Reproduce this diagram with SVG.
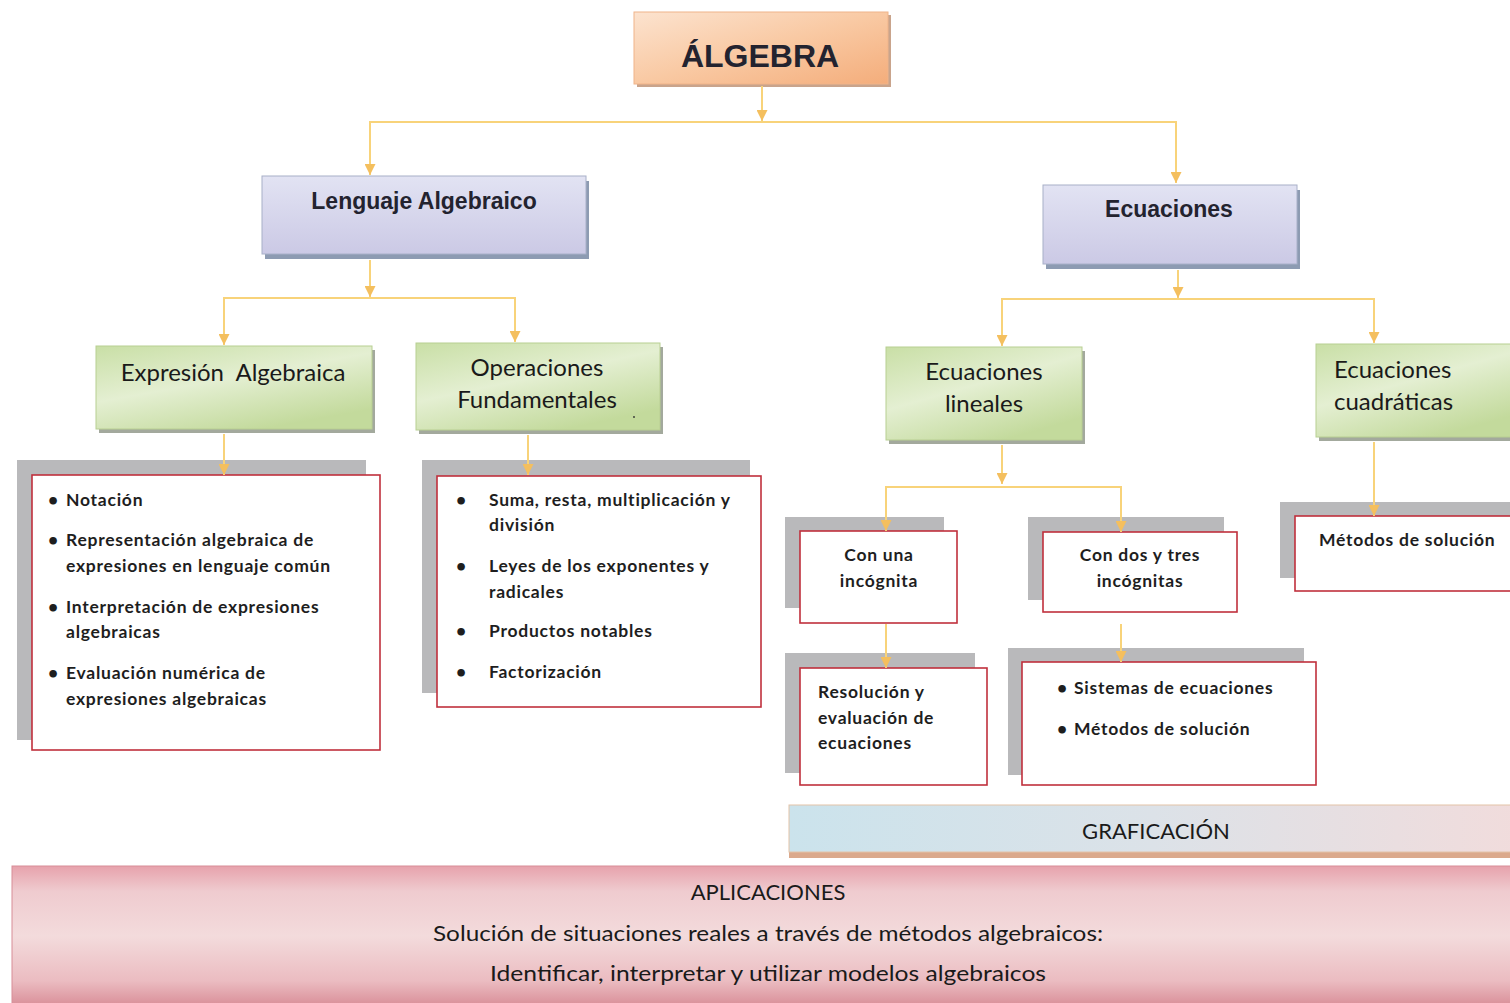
<svg xmlns="http://www.w3.org/2000/svg" width="1510" height="1003" viewBox="0 0 1510 1003">
<defs>
<linearGradient id="gOrange" x1="0" y1="0" x2="1" y2="1"><stop offset="0" stop-color="#fce3cf"/><stop offset="0.5" stop-color="#f9c9a3"/><stop offset="1" stop-color="#f4ad7b"/></linearGradient>
<linearGradient id="gLav" x1="0" y1="0" x2="0" y2="1"><stop offset="0" stop-color="#e2e3f3"/><stop offset="1" stop-color="#cbc9e5"/></linearGradient>
<linearGradient id="gGreen" x1="0" y1="0" x2="0.6" y2="1"><stop offset="0" stop-color="#c9dfa6"/><stop offset="0.5" stop-color="#e4efd2"/><stop offset="1" stop-color="#c3da9c"/></linearGradient>
<linearGradient id="gGraf" x1="0" y1="0" x2="1" y2="0"><stop offset="0" stop-color="#cbe3ec"/><stop offset="0.5" stop-color="#dce2e8"/><stop offset="1" stop-color="#f1dcdc"/></linearGradient>
<linearGradient id="gApl" x1="0" y1="0" x2="0" y2="1"><stop offset="0" stop-color="#e7a2ac"/><stop offset="0.18" stop-color="#efcbcf"/><stop offset="0.5" stop-color="#f3dbdc"/><stop offset="0.82" stop-color="#ebbcc1"/><stop offset="1" stop-color="#d98e98"/></linearGradient>
<marker id="arr" viewBox="0 0 10 10" refX="10" refY="5" markerWidth="11" markerHeight="11" markerUnits="userSpaceOnUse" orient="auto">
<path d="M0,0 L10,5 L0,10 Z" fill="#f4bf5e"/>
</marker>
<style>
.conn{fill:none;stroke:#f8d37a;stroke-width:2}
.ca{fill:none;stroke:#f8d37a;stroke-width:2}
.t1{font-family:"Liberation Sans",Arial,sans-serif;font-weight:bold;fill:#23232f}
.t2{font-family:Lato,"Open Sans",sans-serif;fill:#1a1a1a}
.g24{font-size:24px}
.lst{font-family:Lato,"Open Sans",sans-serif;font-weight:bold;font-size:17.5px;letter-spacing:0.75px;fill:#1e1e1e}
.sh{fill:#b9b9bb}
.rb{fill:#ffffff;stroke:#c0303c;stroke-width:1.6}
</style>
</defs>
<rect width="1510" height="1003" fill="#ffffff"/>

<g id="n-algebra">
<rect x="637" y="15" width="254" height="72" fill="#c9a48c"/>
<rect x="634" y="12" width="254" height="72" fill="url(#gOrange)" stroke="#f0b48a" stroke-width="1"/>
<text class="t1" x="760" y="67" font-size="32" text-anchor="middle">ÁLGEBRA</text>
</g>

<g id="n-lenguaje">
<rect x="265" y="181" width="324" height="78" fill="#8d9bb2"/>
<rect x="262" y="176" width="324" height="78" fill="url(#gLav)" stroke="#a8b0c8" stroke-width="1"/>
<text class="t1" x="424" y="209" font-size="23" text-anchor="middle">Lenguaje Algebraico</text>
</g>

<g id="n-ecuaciones">
<rect x="1046" y="190" width="254" height="79" fill="#8d9bb2"/>
<rect x="1043" y="185" width="254" height="79" fill="url(#gLav)" stroke="#a8b0c8" stroke-width="1"/>
<text class="t1" x="1169" y="217" font-size="23" text-anchor="middle">Ecuaciones</text>
</g>

<g id="n-expresion">
<rect x="99" y="350" width="276" height="83" fill="#a3a99d"/>
<rect x="96" y="346" width="276" height="83" fill="url(#gGreen)" stroke="#b8cf92" stroke-width="1"/>
<text class="t2 g24" x="233" y="381" text-anchor="middle" xml:space="preserve">Expresión  Algebraica</text>
</g>

<g id="n-operaciones">
<rect x="419" y="347" width="244" height="87" fill="#a3a99d"/>
<rect x="416" y="343" width="244" height="87" fill="url(#gGreen)" stroke="#b8cf92" stroke-width="1"/>
<text class="t2 g24" x="537" y="376" text-anchor="middle">Operaciones</text>
<text class="t2 g24" x="537" y="408" text-anchor="middle">Fundamentales</text>
<circle cx="634" cy="417" r="0.9" fill="#333"/>
</g>

<g id="n-lineales">
<rect x="889" y="351" width="196" height="93" fill="#a3a99d"/>
<rect x="886" y="347" width="196" height="93" fill="url(#gGreen)" stroke="#b8cf92" stroke-width="1"/>
<text class="t2 g24" x="984" y="380" text-anchor="middle">Ecuaciones</text>
<text class="t2 g24" x="984" y="412" text-anchor="middle">lineales</text>
</g>

<g id="n-cuadraticas">
<rect x="1319" y="348" width="200" height="93" fill="#a3a99d"/>
<rect x="1316" y="344" width="200" height="93" fill="url(#gGreen)" stroke="#b8cf92" stroke-width="1"/>
<text class="t2 g24" x="1334" y="378">Ecuaciones</text>
<text class="t2 g24" x="1334" y="410">cuadráticas</text>
</g>

<g id="n-list1">
<rect class="sh" x="17" y="460" width="349" height="280"/>
<rect class="rb" x="32" y="475" width="348" height="275"/>
<g class="lst">
<text x="48" y="506">•</text><text x="66" y="506">Notación</text>
<text x="48" y="546">•</text><text x="66" y="546">Representación algebraica de</text>
<text x="66" y="572">expresiones en lenguaje común</text>
<text x="48" y="613">•</text><text x="66" y="613">Interpretación de expresiones</text>
<text x="66" y="638">algebraicas</text>
<text x="48" y="679">•</text><text x="66" y="679">Evaluación numérica de</text>
<text x="66" y="705">expresiones algebraicas</text>
</g>
</g>

<g id="n-list2">
<rect class="sh" x="422" y="460" width="328" height="233"/>
<rect class="rb" x="437" y="476" width="324" height="231"/>
<g class="lst">
<text x="456" y="506">•</text><text x="489" y="506">Suma, resta, multiplicación y</text>
<text x="489" y="531">división</text>
<text x="456" y="572">•</text><text x="489" y="572">Leyes de los exponentes y</text>
<text x="489" y="598">radicales</text>
<text x="456" y="637">•</text><text x="489" y="637">Productos notables</text>
<text x="456" y="678">•</text><text x="489" y="678">Factorización</text>
</g>
</g>

<g id="n-conuna">
<rect class="sh" x="785" y="517" width="159" height="91"/>
<rect class="rb" x="800" y="531" width="157" height="92"/>
<g class="lst" text-anchor="middle">
<text x="879" y="561">Con una</text>
<text x="879" y="587">incógnita</text>
</g>
</g>

<g id="n-condos">
<rect class="sh" x="1028" y="517" width="196" height="83"/>
<rect class="rb" x="1043" y="532" width="194" height="80"/>
<g class="lst" text-anchor="middle">
<text x="1140" y="561">Con dos y tres</text>
<text x="1140" y="587">incógnitas</text>
</g>
</g>

<g id="n-resolucion">
<rect class="sh" x="785" y="653" width="190" height="120"/>
<rect class="rb" x="800" y="668" width="187" height="117"/>
<g class="lst">
<text x="818" y="698">Resolución y</text>
<text x="818" y="724">evaluación de</text>
<text x="818" y="749">ecuaciones</text>
</g>
</g>

<g id="n-sistemas">
<rect class="sh" x="1008" y="648" width="296" height="127"/>
<rect class="rb" x="1022" y="662" width="294" height="123"/>
<g class="lst">
<text x="1057" y="694">•</text><text x="1074" y="694">Sistemas de ecuaciones</text>
<text x="1057" y="735">•</text><text x="1074" y="735">Métodos de solución</text>
</g>
</g>

<g id="n-metodos">
<rect class="sh" x="1280" y="502" width="240" height="76"/>
<rect class="rb" x="1295" y="516" width="230" height="75"/>
<g class="lst">
<text x="1319" y="546">Métodos de solución</text>
</g>
</g>

<g id="n-graficacion">
<rect x="789" y="805" width="730" height="53" fill="#dba98c"/>
<rect x="789" y="805" width="730" height="47" fill="url(#gGraf)" stroke="#e3c3a8" stroke-width="1"/>
<text class="t2" x="1156" y="839" font-size="22" text-anchor="middle">GRAFICACIÓN</text>
</g>

<g id="n-aplicaciones">
<rect x="12" y="866" width="1510" height="140" fill="url(#gApl)" stroke="#d88d97" stroke-width="1"/>
<text class="t2" x="768" y="900" font-size="22" text-anchor="middle">APLICACIONES</text>
<text class="t2" x="768" y="941" font-size="22" text-anchor="middle" textLength="670" lengthAdjust="spacingAndGlyphs">Solución de situaciones reales a través de métodos algebraicos:</text>
<text class="t2" x="768" y="981" font-size="22" text-anchor="middle" textLength="556" lengthAdjust="spacingAndGlyphs">Identificar, interpretar y utilizar modelos algebraicos</text>
</g>

<g id="connectors">
<path class="ca" d="M762,86 V121" marker-end="url(#arr)"/>
<path class="conn" d="M370,175 V122 H1176 V183"/>
<path class="ca" d="M370,160 V175" marker-end="url(#arr)"/>
<path class="ca" d="M1176,168 V183" marker-end="url(#arr)"/>
<path class="ca" d="M370,260 V297" marker-end="url(#arr)"/>
<path class="conn" d="M224,344 V298 H515 V341"/>
<path class="ca" d="M224,330 V345" marker-end="url(#arr)"/>
<path class="ca" d="M515,327 V342" marker-end="url(#arr)"/>
<path class="ca" d="M224,434 V475" marker-end="url(#arr)"/>
<path class="ca" d="M528,435 V475" marker-end="url(#arr)"/>
<path class="ca" d="M1178,270 V298" marker-end="url(#arr)"/>
<path class="conn" d="M1002,345 V299 H1374 V342"/>
<path class="ca" d="M1002,330 V346" marker-end="url(#arr)"/>
<path class="ca" d="M1374,328 V343" marker-end="url(#arr)"/>
<path class="ca" d="M1002,445 V484" marker-end="url(#arr)"/>
<path class="conn" d="M886,530 V487 H1121 V530"/>
<path class="ca" d="M886,516 V531" marker-end="url(#arr)"/>
<path class="ca" d="M1121,516 V532" marker-end="url(#arr)"/>
<path class="ca" d="M886,624 V668" marker-end="url(#arr)"/>
<path class="ca" d="M1121,624 V662" marker-end="url(#arr)"/>
<path class="ca" d="M1374,442 V516" marker-end="url(#arr)"/>
</g>
</svg>
